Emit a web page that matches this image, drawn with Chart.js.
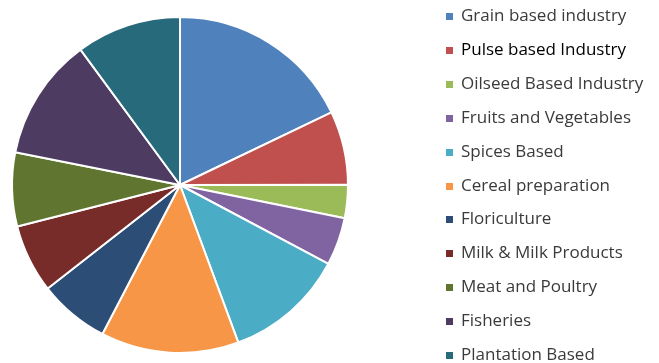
<!DOCTYPE html>
<html>
<head>
<meta charset="utf-8">
<script src="https://cdn.jsdelivr.net/npm/chart.js@4.4.0/dist/chart.umd.min.js"></script>
<style>
  html, body { margin: 0; padding: 0; background: #fff; overflow: hidden; }
  #wrap { position: relative; width: 659px; height: 363px; }
  #c { position: absolute; left: 0; top: 0; }
  #legend { position: absolute; left: 446px; top: 0; margin: 0; padding: 0; list-style: none;
            font-family: "Open Sans", sans-serif; font-size: 17px; color: #3a3a3a; }
  #legend li { position: absolute; left: 0; white-space: nowrap; height: 20px; line-height: 20px; }
  #legend .sw { position: absolute; left: 0; top: 7px; width: 7px; height: 7px; }
  #legend .tx { position: absolute; left: 15px; top: -1px; }
</style>
</head>
<body>
<div id="wrap">
  <canvas id="c" width="659" height="363"></canvas>
  <ul id="legend"></ul>
</div>
<script>
const categories = [
  "Grain based industry",
  "Pulse based Industry",
  "Oilseed Based Industry",
  "Fruits and Vegetables",
  "Spices Based",
  "Cereal preparation",
  "Floriculture",
  "Milk & Milk Products",
  "Meat and Poultry",
  "Fisheries",
  "Plantation Based"
];
const shares = [17.9, 7.1, 3.2, 4.6, 11.6, 13.3, 6.8, 6.6, 7.1, 11.8, 10.1];
const colors = [
  "#4F81BD", "#C0504D", "#9BBB59", "#8064A2", "#4BACC6", "#F79646",
  "#2C4D75", "#772C2A", "#5F7530", "#4D3B62", "#276A7C"
];
const textColors = ["#3a3a3a", "#000000", "#3a3a3a", "#3a3a3a", "#3a3a3a", "#3a3a3a",
  "#3a3a3a", "#3a3a3a", "#3a3a3a", "#3a3a3a", "#3a3a3a"];

const chart = new Chart(document.getElementById("c"), {
  type: "pie",
  data: {
    labels: categories,
    datasets: [{
      data: shares,
      backgroundColor: colors,
      borderColor: "#ffffff",
      borderWidth: 2
    }]
  },
  options: {
    responsive: false,
    animation: false,
    layout: { padding: { left: 11, right: 310, top: 16, bottom: 9 } },
    plugins: { legend: { display: false }, tooltip: { enabled: false } }
  }
});

// HTML legend built from the chart's own label generator
const ul = document.getElementById("legend");
const items = chart.options.plugins.legend.labels.generateLabels(chart);
const rowTop = 6, rowStep = 33.9;
items.forEach((it, i) => {
  const li = document.createElement("li");
  li.style.top = (rowTop + i * rowStep) + "px";
  const sw = document.createElement("span");
  sw.className = "sw";
  sw.style.background = it.fillStyle;
  const tx = document.createElement("span");
  tx.className = "tx";
  tx.textContent = it.text;
  tx.style.color = textColors[i];
  li.appendChild(sw);
  li.appendChild(tx);
  ul.appendChild(li);
});
</script>
</body>
</html>
